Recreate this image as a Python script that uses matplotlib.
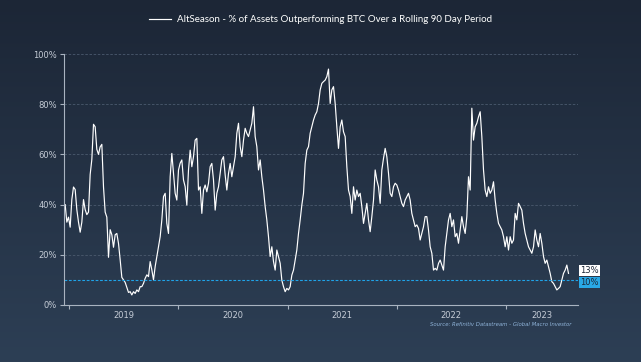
import matplotlib.pyplot as plt
import numpy as np
import pandas as pd
from matplotlib.colors import LinearSegmentedColormap

# % of assets outperforming BTC (evenly spaced, ~5.6 day steps)
alt_pct = [
    40, 33, 35, 31, 42, 47, 46, 38, 33, 29, 33, 42, 38, 36, 37, 52, 58, 72, 71, 62,
    60, 63, 64, 47, 37, 35, 19, 30, 28, 23, 28, 28.5, 24.5, 18, 11, 10, 9, 7, 5, 5.3,
    4, 5.3, 4.6, 6, 5.3, 7.3, 7.3, 8.6, 10.6, 12, 11.3, 17.3, 14, 10, 15.3, 19.3, 23.3, 27.2, 33.9, 43.2,
    44.5, 32.5, 28.5, 51.1, 60.4, 52.5, 44.5, 41.8, 53.8, 56.5, 57.8, 49.8,
    47.1, 39.8, 53.8, 61.7, 55.1, 59.1, 65.7, 66.4, 45.8, 47.1, 36.5, 45.8, 47.8, 45.1, 48.5, 55.1,
    56.4, 49.8, 37.8, 44.5, 47.1, 52.4, 57.8, 59.1, 51.8, 45.8, 52.4, 56.4, 51.1, 55.1, 59.1, 68.4,
    72.4, 63.1, 59.1, 65.7, 70.4, 68.4, 67.1, 69.7, 72.4, 79.0, 67.1, 63.1, 53.8, 57.8, 51.1, 45.8,
    39.2, 33.9, 27.2, 19.3, 23.2, 17.3, 13.9, 21.9, 19.3, 16.6, 9.9, 7.3, 5.3, 6.6, 6.0, 7.3,
    11.9, 13.9, 17.9, 21.9, 28.5, 33.9, 39.8, 44.5, 56.4, 61.7, 63.1,
    68.4, 71.0, 73.7, 75.7, 77.0, 80.3, 85.7, 88.3, 89.0, 89.6, 91.0, 94.0, 80.3, 85.7, 87.0, 80.3,
    71.0, 62.4, 71.0, 73.7, 69.0, 67.1, 55.1, 45.8, 43.2, 36.5, 47.1, 41.8, 45.8, 43.2, 44.5, 39.2,
    32.5, 36.5, 40.5, 33.9, 29.2, 35.2, 41.8, 53.8, 49.8, 47.1, 40.5, 53.8, 58.4, 62.4, 59.1, 52.5,
    44.5, 43.2, 47.1, 48.5, 47.8, 45.8, 43.2, 40.5, 39.2, 41.8, 43.2, 44.5, 41.8, 36.5, 33.9, 31.2,
    31.9, 30.5, 25.9, 28.5, 31.2, 35.2, 35.2, 29.9, 23.2, 20.6, 13.9,
    14.6, 13.9, 16.6, 17.9, 15.9, 13.9, 23.2, 28.5, 33.9, 36.5, 31.2, 33.9, 27.2, 28.5, 24.6, 29.9,
    35.2, 31.2, 28.5, 35.2, 51.1, 45.8, 78.4, 65.7, 71.0, 72.4, 75.0, 77.0, 67.1, 53.8, 45.8, 43.2,
    47.1, 44.5, 45.8, 49.1, 41.8, 36.5, 32.5, 31.2, 29.9, 27.2, 23.2, 27.2, 21.9, 27.2, 24.6, 25.9,
    36.5, 33.9, 40.5, 39.2, 37.8, 32.5, 28.5, 25.9, 23.2, 21.9, 20.6, 23.2, 29.9, 25.9, 23.2, 28.5,
    24.6, 19.3, 16.6, 17.9, 15.3, 12.6, 9.3, 8.6, 7.3, 6.0, 6.6, 7.3, 10.0, 12.6, 13.9, 15.9, 12.6,
]
start_date = "2018-12-18"
end_date = "2023-07-31"
threshold = 10
years = [2019, 2020, 2021, 2022, 2023]
y_ticks = [0, 20, 40, 60, 80, 100]

dates = pd.date_range(start_date, end_date, periods=len(alt_pct))
vals = np.array(alt_pct) / 100.0

fig = plt.figure(figsize=(6.41, 3.62), dpi=100)

# background gradient
bg = fig.add_axes([0, 0, 1, 1], zorder=-10)
grad = np.linspace(0, 1, 256).reshape(-1, 1)
cmap = LinearSegmentedColormap.from_list("bg", ["#1c2636", "#2d3f55"])
bg.imshow(grad, aspect="auto", cmap=cmap, extent=[0, 1, 0, 1], origin="upper")
bg.axis("off")

ax = fig.add_axes([0.0998, 0.1575, 0.802, 0.6933])
ax.patch.set_alpha(0)

line, = ax.plot(dates, vals, color="white", lw=0.85,
                label="AltSeason - % of Assets Outperforming BTC Over a Rolling 90 Day Period")
ax.axhline(threshold / 100, color="#1fa3e8", lw=0.8, ls=(0, (2.5, 1.5)))

x0 = pd.Timestamp("2018-12-14")
x1 = pd.Timestamp("2023-09-01")
ax.set_xlim(x0, x1)
ax.set_ylim(0, 1)

ax.set_yticks([v / 100 for v in y_ticks])
ax.set_yticklabels([f"{v}%" for v in y_ticks])
for v in y_ticks[1:]:
    ax.axhline(v / 100, color="#4b5a6e", lw=0.6, ls=(0, (3, 2)), zorder=0)

# major ticks at year start, labels centred in each year
major = [pd.Timestamp(f"{y}-01-01") for y in years]
ax.set_xticks(major)
ax.set_xticklabels([])
mids = []
for y in years:
    a = pd.Timestamp(f"{y}-01-01")
    b = min(pd.Timestamp(f"{y + 1}-01-01"), x1)
    mids.append(a + (b - a) / 2)
ax.set_xticks(mids, minor=True)
ax.set_xticklabels([str(y) for y in years], minor=True)
ax.tick_params(axis="x", which="minor", length=0, pad=4)
ax.tick_params(axis="x", which="major", length=3, color="#a9b3c0")
ax.tick_params(axis="both", which="both", labelsize=6, labelcolor="#c5ccd6")
ax.tick_params(axis="y", length=3, color="#a9b3c0", pad=2)

for s in ["top", "right"]:
    ax.spines[s].set_visible(False)
for s in ["left", "bottom"]:
    ax.spines[s].set_color("#a9b3c0")
    ax.spines[s].set_linewidth(0.8)

# end labels
ax.text(1.004, vals[-1] + 0.012, f"{round(alt_pct[-1])}%", transform=ax.get_yaxis_transform(),
        fontsize=6, color="#1c2636", va="center", ha="left",
        bbox=dict(boxstyle="square,pad=0.15", fc="white", ec="none"))
ax.text(1.004, threshold / 100 - 0.01, f"{threshold}%", transform=ax.get_yaxis_transform(),
        fontsize=6, color="#1c2636", va="center", ha="left",
        bbox=dict(boxstyle="square,pad=0.15", fc="#29a8e6", ec="none"))

leg = fig.legend(handles=[line], loc="center", bbox_to_anchor=(0.5, 0.945), frameon=False,
                 prop={"family": "Lato", "size": 7}, handlelength=2.3, handletextpad=0.6)
for t in leg.get_texts():
    t.set_color("white")

fig.text(0.891, 0.104, "Source: Refinitiv Datastream - Global Macro Investor", ha="right",
         va="center", fontsize=3.9, style="italic", color="#8fb3d9")

fig.savefig("out.png", dpi=100)
